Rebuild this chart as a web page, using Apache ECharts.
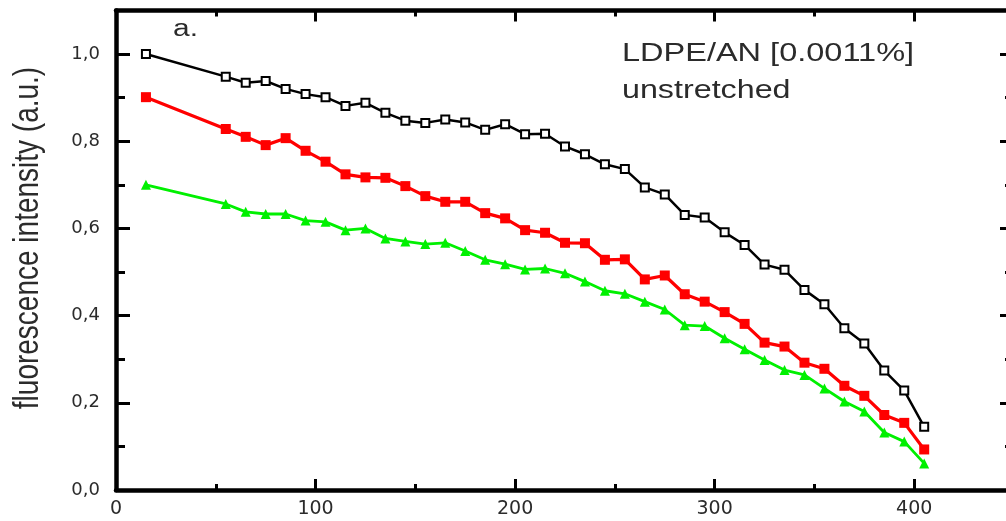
<!DOCTYPE html>
<html><head><meta charset="utf-8">
<script src="https://cdn.jsdelivr.net/npm/echarts@6/dist/echarts.min.js"></script>
<style>html,body{margin:0;padding:0;background:#fff}#c{width:1006px;height:521px}</style>
</head><body><div id="c"></div>
<script>
// ---- data ----
const xValues = [15,55,65,75,85,95,105,115,125,135,145,155,165,175,185,195,205,215,225,235,245,255,265,275,285,295,305,315,325,335,345,355,365,375,385,395,405];
const blackValues = [1.000,0.948,0.934,0.938,0.920,0.908,0.901,0.881,0.888,0.865,0.847,0.842,0.850,0.843,0.826,0.839,0.816,0.817,0.788,0.770,0.747,0.736,0.694,0.678,0.631,0.625,0.591,0.562,0.517,0.505,0.459,0.426,0.371,0.336,0.274,0.228,0.145];
const redValues = [0.901,0.828,0.810,0.791,0.807,0.778,0.753,0.724,0.717,0.716,0.697,0.674,0.661,0.661,0.635,0.623,0.596,0.590,0.567,0.566,0.528,0.529,0.483,0.492,0.449,0.432,0.408,0.381,0.338,0.329,0.292,0.278,0.239,0.216,0.172,0.154,0.093];
const greenValues = [0.700,0.656,0.638,0.633,0.633,0.618,0.615,0.596,0.600,0.577,0.570,0.564,0.567,0.548,0.528,0.518,0.506,0.508,0.497,0.478,0.457,0.450,0.432,0.414,0.378,0.376,0.348,0.323,0.298,0.275,0.264,0.233,0.203,0.180,0.132,0.111,0.061];
const xMin = 0, xMax = 450, xMajor = 100, xMinor = 50;
const yMin = 0, yMax = 1.1, yMajor = 0.2, yMinor = 0.1;
const yAxisTitle = 'fluorescence intensity (a.u.)';
const panelLabel = 'a.';
const noteLine1 = 'LDPE/AN [0.0011%]';
const noteLine2 = 'unstretched';

// ---- chart ----
const pairs = vals => xValues.map((x, i) => [x, vals[i]]);
const gridBox = {left:116, right:-8, top:10.4, bottom:31, outerBoundsMode:'none', containLabel:false};
const tickFont = "'DejaVu Sans'";
const txtColor = '#2b2b2b';

function xAx(grid, pos, interval, tickLen, showLine, showLabel) {
  return {
    type:'value', gridIndex:grid, position:pos, min:xMin, max:xMax, interval:interval,
    axisLine:{show:showLine, onZero:false, lineStyle:{color:'#000', width:4.5}},
    axisTick:{show:true, inside:true, length:tickLen, lineStyle:{color:'#000', width:3}},
    axisLabel:{show:showLabel, margin:10, fontSize:19, fontFamily:tickFont, color:txtColor, showMaxLabel:false,
      formatter: v => String(Math.round(v))},
    splitLine:{show:false}
  };
}
function yAx(grid, pos, interval, tickLen, showLine, showLabel) {
  return {
    type:'value', gridIndex:grid, position:pos, min:yMin, max:yMax, interval:interval,
    axisLine:{show:showLine, onZero:false, lineStyle:{color:'#000', width:4.5}},
    axisTick:{show:true, inside:true, length:tickLen, lineStyle:{color:'#000', width:3}},
    axisLabel:{show:showLabel, margin:16, fontSize:18, fontFamily:tickFont, color:txtColor, showMaxLabel:false,
      formatter: v => v.toFixed(1).replace('.', ',')},
    splitLine:{show:false}
  };
}

const option = {
  animation:false,
  backgroundColor:'#fff',
  grid:[{...gridBox},{...gridBox},{...gridBox},{...gridBox}],
  xAxis:[
    xAx(0,'bottom',xMajor,11,true,true),
    xAx(1,'top',xMajor,11,true,false),
    xAx(2,'bottom',xMinor,6,false,false),
    xAx(3,'top',xMinor,6,false,false)
  ],
  yAxis:[
    yAx(0,'left',yMajor,14,true,true),
    yAx(1,'right',yMajor,14,true,false),
    yAx(2,'left',yMinor,9,false,false),
    yAx(3,'right',yMinor,9,false,false)
  ],
  series:[
    {type:'line', xAxisIndex:0, yAxisIndex:0, data:pairs(greenValues), color:'#00f000',
     symbol:'triangle', symbolSize:10, lineStyle:{width:2.8, color:'#00f000'}, itemStyle:{color:'#00f000'}},
    {type:'line', xAxisIndex:0, yAxisIndex:0, data:pairs(redValues), color:'#ff0000',
     symbol:'rect', symbolSize:10, lineStyle:{width:3.2, color:'#ff0000'}, itemStyle:{color:'#ff0000'}},
    {type:'line', xAxisIndex:0, yAxisIndex:0, data:pairs(blackValues), color:'#000',
     symbol:'rect', symbolSize:8, lineStyle:{width:2.5, color:'#000'}, itemStyle:{color:'#fff', borderColor:'#000', borderWidth:2}}
  ],
  graphic:[
    {type:'text', x:173, y:30, scaleX:1.3, silent:true,
     style:{text:panelLabel, x:0, y:0, font:"23px 'Liberation Sans'", fill:txtColor, textAlign:'left', textVerticalAlign:'middle'}},
    {type:'text', x:622, y:54.3, scaleX:1.3, silent:true,
     style:{text:noteLine1, x:0, y:0, font:"25px 'Liberation Sans'", fill:txtColor, textAlign:'left', textVerticalAlign:'middle'}},
    {type:'text', x:622, y:91.3, scaleX:1.29, silent:true,
     style:{text:noteLine2, x:0, y:0, font:"25px 'Liberation Sans'", fill:txtColor, textAlign:'left', textVerticalAlign:'middle'}},
    {type:'text', x:29, y:238, rotation:Math.PI/2, scaleY:1.22, silent:true,
     style:{text:yAxisTitle, x:0, y:0, font:"28px 'Liberation Sans'", fill:txtColor, textAlign:'center', textVerticalAlign:'middle'}}
  ]
};
const chart = echarts.init(document.getElementById('c'), null, {renderer:'canvas', width:1006, height:521});
chart.setOption(option);
</script></body></html>
